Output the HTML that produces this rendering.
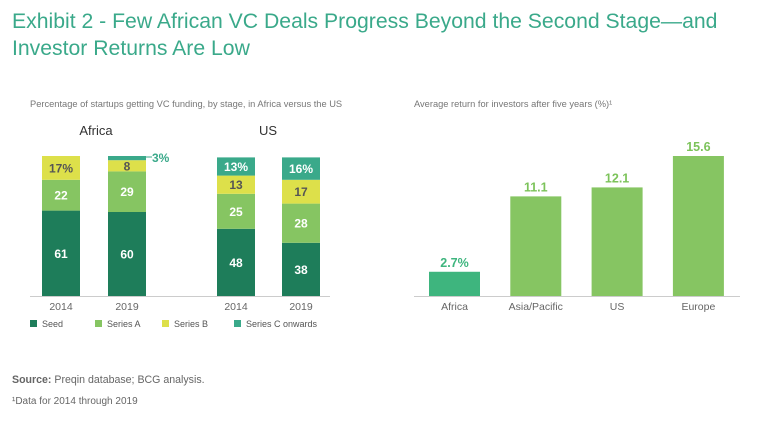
<!DOCTYPE html>
<html><head><meta charset="utf-8"><style>
body{margin:0;background:#fff;font-family:"Liberation Sans",sans-serif;}
svg text{font-family:"Liberation Sans",sans-serif;}
</style></head><body>
<svg width="768" height="419" viewBox="0 0 768 419">
<text x="12" y="28" font-size="21.2" fill="#3aa98a">Exhibit 2 - Few African VC Deals Progress Beyond the Second Stage—and</text>
<text x="12" y="55" font-size="21.2" fill="#3aa98a">Investor Returns Are Low</text>
<text x="30" y="107" font-size="9.3" fill="#777">Percentage of startups getting VC funding, by stage, in Africa versus the US</text>
<text x="414" y="107" font-size="9.3" fill="#777">Average return for investors after five years (%)¹</text>
<text x="96" y="135" font-size="13" fill="#333" text-anchor="middle">Africa</text>
<text x="268" y="135" font-size="13" fill="#333" text-anchor="middle">US</text>
<g id="left"></g><g id="right"></g>
<line x1="30" y1="296.5" x2="330" y2="296.5" stroke="#ccc"/>
<line x1="414" y1="296.5" x2="740" y2="296.5" stroke="#ccc"/>
<g font-size="9" fill="#555" id="legend"></g>
<text x="12" y="383" font-size="10.6" fill="#666"><tspan font-weight="bold">Source:</tspan> Preqin database; BCG analysis.</text>
<text x="12" y="404" font-size="10" fill="#666">¹Data for 2014 through 2019</text>
</svg>
<script>
const stackCats=["2014","2019","2014","2019"];
const seed=[61,60,48,38];
const seriesA=[22,29,25,28];
const seriesB=[17,8,13,17];
const seriesC=[0,3,13,16];
const stackLabels=[["61","22","17%",""],["60","29","8",""],["48","25","13","13%"],["38","28","17","16%"]];
const retCats=["Africa","Asia/Pacific","US","Europe"];
const retVals=[2.7,11.1,12.1,15.6];
const retLabels=["2.7%","11.1","12.1","15.6"];
const NS="http://www.w3.org/2000/svg";
function mk(p,t,a){const e=document.createElementNS(NS,t);for(const k in a)e.setAttribute(k,a[k]);p.appendChild(e);return e;}
const base=296, ly=v=>v*1.4;
const bx=i=>[42,108,217,282][i];
const cols=["#1e7d5a","#86c562","#dde04a","#3aa98a"];
const tcols=["#fff","#fff","#555","#fff"];
const names=["seed","series-a","series-b","series-c"];
const L=document.getElementById('left');
stackCats.forEach((c,i)=>{
  let y=base;const vals=[seed[i],seriesA[i],seriesB[i],seriesC[i]];
  vals.forEach((v,s)=>{
    const h=ly(v);y-=h;if(v<=0)return;
    const r=mk(L,'rect',{x:bx(i),y:y,width:38,height:h,fill:cols[s]});
    
    
    const lab=stackLabels[i][s];
    if(lab&&h>8){const t=mk(L,'text',{x:bx(i)+19,y:y+h/2+4.5,'font-size':12,'font-weight':'bold',fill:tcols[s],'text-anchor':'middle'});t.textContent=lab;
      }
    else if(s===3&&v>0){const t=mk(L,'text',{x:bx(i)+44,y:y+6,'font-size':12,'font-weight':'bold',fill:'#3aa98a'});t.textContent=v+"%";
      
      const ln=mk(L,'line',{x1:bx(i)+38,y1:y+1,x2:bx(i)+44,y2:y+1,stroke:'#3aa98a'});}
  });
  const t=mk(L,'text',{x:bx(i)+19,y:310,'font-size':10.5,fill:'#666','text-anchor':'middle'});t.textContent=c;
  
});
const R=document.getElementById('right');
const ry=v=>v*140/15.6, rx=i=>429+i*81.3;
retCats.forEach((c,i)=>{
  const h=ry(retVals[i]);
  const r=mk(R,'rect',{x:rx(i),y:base-h,width:51,height:h,fill:i===0?'#3eb57e':'#86c562'});
  
  
  const t=mk(R,'text',{x:rx(i)+25.5,y:base-h-5,'font-size':12.5,'font-weight':'bold',fill:i===0?'#3eb57e':'#7cc35a','text-anchor':'middle'});t.textContent=retLabels[i];
  
  const x=mk(R,'text',{x:rx(i)+25.5,y:310,'font-size':10.5,fill:'#666','text-anchor':'middle'});x.textContent=c;
  
});
const G=document.getElementById('legend');
const lnames=["Seed","Series A","Series B","Series C onwards"],lx=[30,95,162,234];
lnames.forEach((n,i)=>{
  const r=mk(G,'rect',{x:lx[i],y:320,width:7,height:7,fill:cols[i]});
  
  const t=mk(G,'text',{x:lx[i]+12,y:327});t.textContent=n;
  
});
</script>
</body></html>
